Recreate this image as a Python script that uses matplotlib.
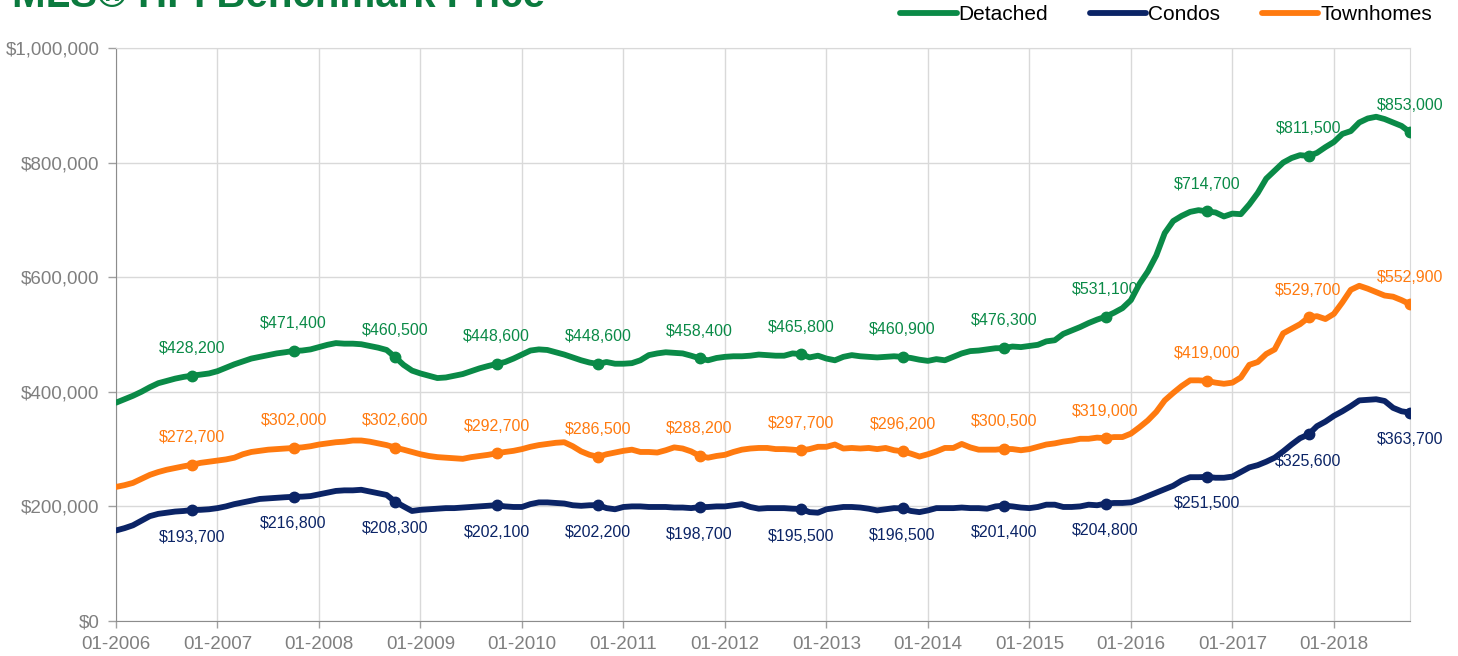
import matplotlib
matplotlib.use('Agg')
import matplotlib.pyplot as plt
from matplotlib.lines import Line2D
import numpy as np
import pandas as pd

plt.rcParams['font.family'] = ['Liberation Sans', 'DejaVu Sans']

# monthly benchmark prices in $ thousands, 01-2006 .. 10-2018
months = pd.date_range('2006-01-01', periods=154, freq='MS')

detached = [
    381, 387, 393, 400, 408, 415, 419, 423, 426, 428.2, 430, 432,
    436, 442, 448, 453, 458, 461, 464, 467, 469, 471.4, 472, 474,
    478, 482, 485, 484, 484, 483, 480, 477, 473, 460.5, 447, 437,
    432, 428, 424, 425, 428, 431, 436, 441, 445, 448.6, 452, 458,
    465, 472, 474, 473, 469, 465, 460, 455, 451, 448.6, 452, 449,
    449, 450, 455, 464, 467, 469, 468, 467, 463, 458.4, 455, 459,
    461, 462, 462, 463, 465, 464, 463, 463, 467, 465.8, 460, 463,
    458, 455, 461, 464, 462, 461, 460, 461, 462, 460.9, 459, 456,
    454, 457, 455, 461, 467, 471, 472, 474, 476, 476.3, 479, 478,
    480, 482, 488, 490, 501, 507, 513, 520, 526, 531.1, 538, 546,
    560, 588, 610, 638, 677, 698, 707, 714, 717, 714.7, 713, 706,
    711, 710, 727, 747, 772, 786, 800, 808, 813, 811.5, 817, 827,
    836, 850, 855, 870, 877, 880, 876, 870, 864, 853.0,
]

townhomes = [
    234, 237, 241, 248, 255, 260, 264, 267, 270, 272.7, 276, 278,
    280, 282, 285, 291, 295, 297, 299, 300, 301, 302.0, 303, 305,
    308, 310, 312, 313, 315, 315, 313, 310, 307, 302.6, 299, 295,
    291, 288, 286, 285, 284, 283, 286, 288, 290, 292.7, 295, 297,
    300, 304, 307, 309, 311, 312, 305, 296, 290, 286.5, 291, 294,
    297, 299, 295, 295, 294, 298, 303, 301, 296, 288.2, 285, 288,
    290, 295, 299, 301, 302, 302, 300, 300, 299, 297.7, 300, 304,
    304, 308, 301, 302, 301, 302, 300, 302, 298, 296.2, 292, 287,
    291, 296, 302, 302, 309, 303, 299, 299, 299, 300.5, 300, 298,
    300, 304, 308, 310, 313, 315, 318, 318, 320, 319.0, 321, 321,
    327, 338, 350, 365, 385, 398, 410, 420, 420, 419.0, 416, 414,
    416, 425, 447, 452, 466, 474, 502, 510, 518, 529.7, 532, 527,
    536, 556, 578, 585, 580, 574, 568, 566, 560, 552.9,
]

condos = [
    158, 162, 167, 175, 183, 187, 189, 191, 192, 193.7, 194, 195,
    197, 200, 204, 207, 210, 213, 214, 215, 216, 216.8, 217, 218,
    221, 224, 227, 228, 228, 229, 226, 223, 220, 208.3, 200, 192,
    194, 195, 196, 197, 197, 198, 199, 200, 201, 202.1, 200, 199,
    199, 204, 207, 207, 206, 205, 202, 201, 202, 202.2, 197, 195,
    199, 200, 200, 199, 199, 199, 198, 198, 197, 198.7, 199, 200,
    200, 202, 204, 199, 196, 197, 197, 197, 196, 195.5, 190, 189,
    195, 197, 199, 199, 198, 196, 193, 195, 197, 196.5, 192, 190,
    193, 197, 197, 197, 198, 197, 197, 196, 200, 201.4, 200, 198,
    197, 199, 203, 203, 199, 199, 200, 203, 202, 204.8, 206, 206,
    207, 212, 218, 224, 230, 236, 245, 251, 251, 251.5, 250, 250,
    252, 260, 268, 272, 278, 285, 296, 308, 319, 325.6, 340, 348,
    358, 366, 375, 385, 386, 387, 384, 372, 366, 363.7,
]

green = '#0A8A47'
navy = '#0B2466'
orange = '#FF7A0F'
grey = '#7F7F7F'

series = [('Detached', detached, green, 1),
          ('Condos', condos, navy, -1),
          ('Townhomes', townhomes, orange, 1)]

fig = plt.figure(figsize=(14.58, 6.56), dpi=100)
ax = fig.add_axes([116 / 1458, 1 - 621 / 656, (1410 - 116) / 1458, (621 - 48) / 656])

x = np.arange(len(months))
octobers = [i for i, m in enumerate(months) if m.month == 10]

handles = []
for name, vals, col, side in series:
    v = np.array(vals) * 1000
    ax.plot(x, v, color=col, lw=4.2, solid_joinstyle='round',
            solid_capstyle='round', marker='o', ms=7.5, markevery=octobers, zorder=3)
    for i in octobers:
        ax.annotate(f'${v[i]:,.0f}', (x[i], v[i]), xytext=(0, 19.5 * side),
                    textcoords='offset points', ha='center', va='center',
                    fontsize=11.5, color=col, zorder=4, annotation_clip=False)
    handles.append(Line2D([], [], color=col, lw=4.2, solid_capstyle='round', label=name))

ax.set_xlim(0, len(months) - 1)
ax.set_ylim(0, 1000000)
ax.set_yticks(range(0, 1000001, 200000))
ax.set_yticklabels([f'${t:,.0f}' for t in range(0, 1000001, 200000)])
year_ticks = [i for i, m in enumerate(months) if m.month == 1]
ax.set_xticks(year_ticks)
ax.set_xticklabels([months[i].strftime('%m-%Y') for i in year_ticks])

ax.grid(True, color='#D9D9D9', lw=1)
ax.set_axisbelow(True)
ax.tick_params(axis='y', colors=grey, labelsize=13.5, length=6, width=1, pad=6, color='#A0A0A0')
ax.tick_params(axis='x', colors=grey, labelsize=13.5, length=5, width=1, pad=6, color='#A0A0A0')
for s in ['left', 'bottom']:
    ax.spines[s].set_color('#8C8C8C')
for s in ['top', 'right']:
    ax.spines[s].set_color('#D9D9D9')

fig.text(12 / 1458, 1 - 7 / 656, 'MLS® HPI Benchmark Price', fontsize=29,
         fontweight='bold', color='#0B7A3E', va='baseline', ha='left')

fig.legend(handles=handles, loc='center right', bbox_to_anchor=(1432 / 1458, 1 - 15 / 656),
           ncol=3, frameon=False, fontsize=15, handlelength=2.7, handletextpad=0.1,
           columnspacing=2.0, borderaxespad=0, borderpad=0)

fig.savefig('out.png', dpi=100)
